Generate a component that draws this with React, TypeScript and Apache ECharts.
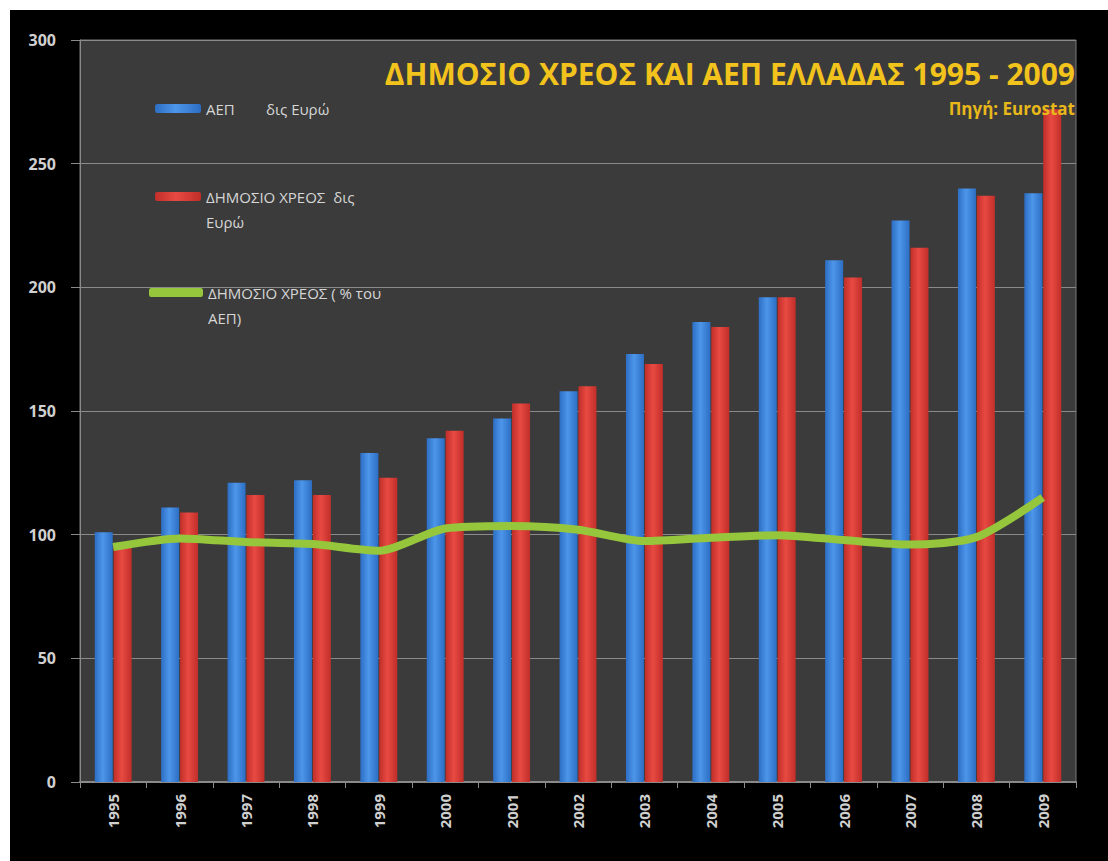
import React, { useEffect, useRef } from "react";
import * as echarts from "echarts";

const years = ["1995", "1996", "1997", "1998", "1999", "2000", "2001", "2002", "2003", "2004", "2005", "2006", "2007", "2008", "2009"];
const gdp = [101, 111, 121, 122, 133, 139, 147, 158, 173, 186, 196, 211, 227, 240, 238];
const debt = [95, 109, 116, 116, 123, 142, 153, 160, 169, 184, 196, 204, 216, 237, 272];
const debtPct = [95, 98.5, 97, 96.2, 93.5, 102.5, 103.5, 102, 97.4, 98.8, 99.8, 97.8, 96, 99, 115];
const yTicks = { min: 0, max: 300, interval: 50 };

const NAME_GDP = "ΑΕΠ\u00a0\u00a0\u00a0\u00a0\u00a0\u00a0\u00a0\u00a0δις Ευρώ";
const NAME_DEBT = "ΔΗΜΟΣΙΟ ΧΡΕΟΣ\u00a0\u00a0δις\nΕυρώ";
const NAME_PCT = "ΔΗΜΟΣΙΟ ΧΡΕΟΣ ( % του\nΑΕΠ)";

const FONT = "'Open Sans', sans-serif";

export default function App() {
  const ref = useRef<HTMLDivElement>(null);
  useEffect(() => {
    if (!ref.current) return;
    const chart = echarts.init(ref.current, undefined, { renderer: "svg" });
    const barGrad = (edge: string, mid: string) =>
      new echarts.graphic.LinearGradient(0, 0, 1, 0, [
        { offset: 0, color: edge },
        { offset: 0.45, color: mid },
        { offset: 1, color: edge },
      ]);
    const legendText = {
      color: "#d6d6d6",
      fontSize: 15,
      fontFamily: FONT,
      lineHeight: 25,
    };
    const twoLine = (name: string) => " \n" + name;
    chart.setOption({
      animation: false,
      backgroundColor: "#000000",
      title: [
        {
          text: "ΔΗΜΟΣΙΟ ΧΡΕΟΣ ΚΑΙ ΑΕΠ ΕΛΛΑΔΑΣ 1995 - 2009",
          right: 28,
          top: 43,
          textStyle: { color: "#f2c31c", fontSize: 30, fontWeight: "bold", fontFamily: FONT },
        },
        {
          text: "Πηγή: Eurostat",
          right: 28,
          top: 85,
          textStyle: { color: "#e8b81a", fontSize: 17, fontWeight: "bold", fontFamily: FONT },
        },
      ],
      legend: [
        {
          data: [NAME_GDP],
          orient: "vertical",
          left: 140,
          top: 81,
          icon: "roundRect",
          itemWidth: 46,
          itemHeight: 9,
          textStyle: legendText,
        },
        {
          data: [NAME_DEBT],
          orient: "vertical",
          left: 140,
          top: 144,
          icon: "roundRect",
          itemWidth: 46,
          itemHeight: 9,
          formatter: twoLine,
          textStyle: legendText,
        },
        {
          data: [NAME_PCT],
          orient: "vertical",
          left: 134,
          top: 240,
          icon: "roundRect",
          itemWidth: 54,
          itemHeight: 9,
          formatter: twoLine,
          textStyle: legendText,
        },
      ],
      grid: {
        left: 70,
        top: 30,
        right: 32,
        bottom: 79,
        show: true,
        backgroundColor: "#3b3b3b",
        borderColor: "#7a7a7a",
        borderWidth: 1,
      },
      xAxis: {
        type: "category",
        data: years,
        axisLine: { lineStyle: { color: "#8a8a8a", width: 2 } },
        axisTick: { show: true, length: 6, lineStyle: { color: "#8a8a8a" } },
        axisLabel: {
          rotate: 90,
          color: "#d0d0d0",
          fontSize: 15,
          fontWeight: "bold",
          fontFamily: FONT,
          margin: 12,
        },
      },
      yAxis: {
        type: "value",
        min: yTicks.min,
        max: yTicks.max,
        interval: yTicks.interval,
        axisLine: { show: true, lineStyle: { color: "#8a8a8a" } },
        axisTick: { show: true, length: 9, lineStyle: { color: "#8a8a8a" } },
        splitLine: { lineStyle: { color: "#8a8a8a", width: 1 } },
        axisLabel: {
          color: "#d0d0d0",
          fontSize: 16,
          fontWeight: "bold",
          fontFamily: FONT,
          margin: 24,
        },
      },
      series: [
        {
          name: NAME_GDP,
          type: "bar",
          data: gdp,
          barWidth: 18,
          barGap: "5%",
          itemStyle: { color: barGrad("#2c6ec4", "#4d96ea") },
        },
        {
          name: NAME_DEBT,
          type: "bar",
          data: debt,
          barWidth: 18,
          barGap: "5%",
          itemStyle: { color: barGrad("#c12e29", "#e84a42") },
        },
        {
          name: NAME_PCT,
          type: "line",
          data: debtPct,
          smooth: 0.25,
          showSymbol: false,
          symbol: "none",
          lineStyle: { color: "#95c63c", width: 8 },
          itemStyle: { color: "#95c63c" },
          z: 5,
        },
      ],
    });
    return () => chart.dispose();
  }, []);
  return (
    <div
      ref={ref}
      style={{ position: "absolute", left: 10, top: 10, width: 1098, height: 851 }}
    />
  );
}
